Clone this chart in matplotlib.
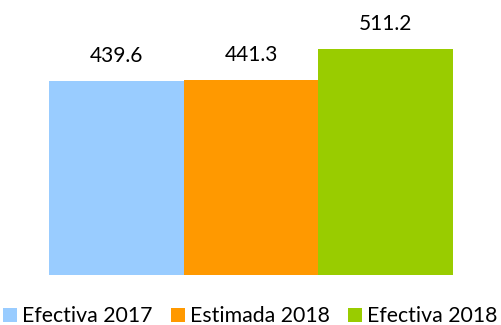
import matplotlib.pyplot as plt
from matplotlib.patches import Patch

# Valores de la serie
categorias = ["Efectiva 2017", "Estimada 2018", "Efectiva 2018"]
valores = [439.6, 441.3, 511.2]
colores = ["#99CCFF", "#FF9900", "#99CC00"]

plt.rcParams['font.family'] = ['Lato', 'DejaVu Sans']

fig = plt.figure(figsize=(5.01, 3.25), dpi=100)
ax = fig.add_axes([49 / 501, 50 / 325, 404 / 501, 264.8 / 325])

pos = list(range(len(valores)))
ax.bar(pos, valores, width=1.0, color=colores, linewidth=0)

for x, v in zip(pos, valores):
    ax.text(x, v + 57, f"{v:.1f}", ha="center", va="center",
            fontsize=15, color="#000000")

ax.set_xlim(-0.5, 2.5)
ax.set_ylim(0, 600)
ax.axis("off")

handles = [Patch(facecolor=c, edgecolor="none", label=n)
           for n, c in zip(categorias, colores)]
fig.legend(handles=handles, loc="lower center", bbox_to_anchor=(0.5, -0.03),
           ncol=3, frameon=False, fontsize=15.3, handlelength=0.65,
           handleheight=0.65, handletextpad=0.25, columnspacing=0.85,
           borderaxespad=0)

fig.savefig("out.png", dpi=100)
